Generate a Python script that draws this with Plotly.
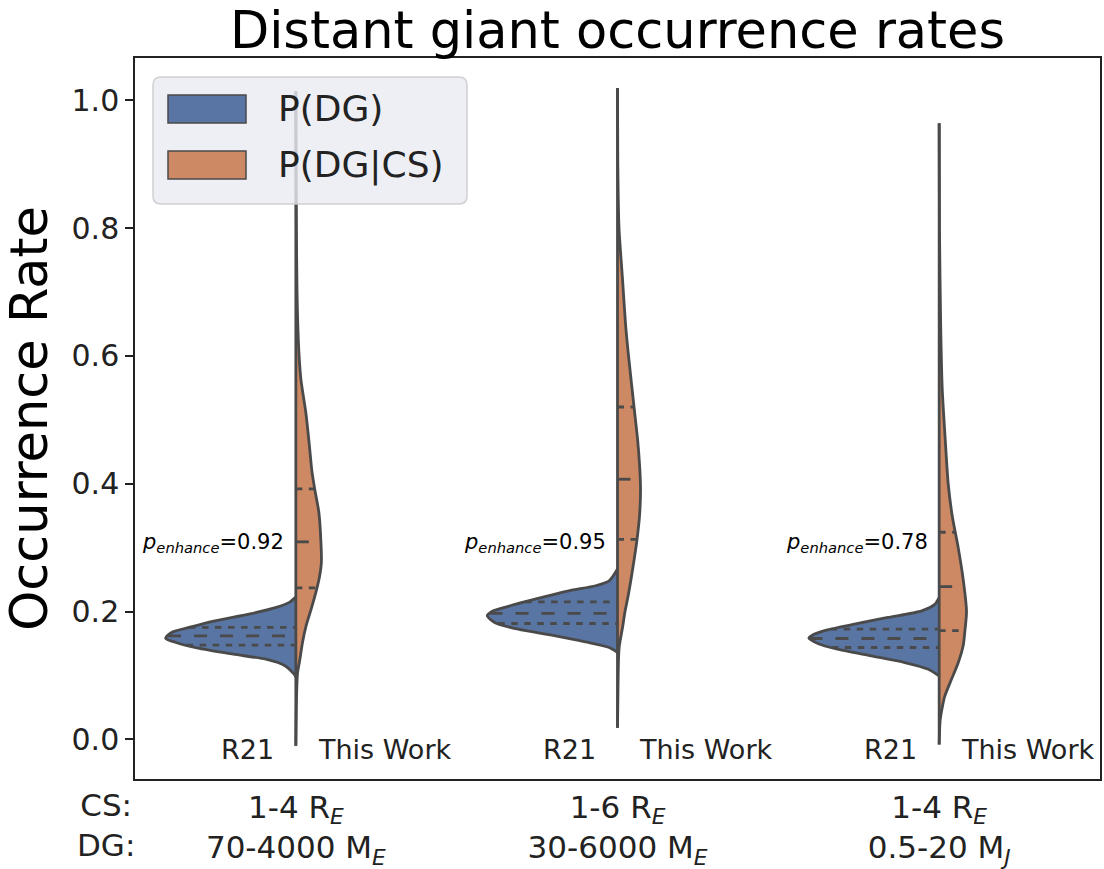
import numpy as np
import plotly.graph_objects as go

# ---------------- data ----------------
cs_labels = ["1-4 R<sub><i>E</i></sub>", "1-6 R<sub><i>E</i></sub>", "1-4 R<sub><i>E</i></sub>"]
dg_labels = ["70-4000 M<sub><i>E</i></sub>", "30-6000 M<sub><i>E</i></sub>", "0.5-20 M<sub><i>J</i></sub>"]
p_enhance = [0.92, 0.95, 0.78]
series_names = ["P(DG)", "P(DG|CS)"]
side_labels = ["R21", "This Work"]
y_ticks = [0.0, 0.2, 0.4, 0.6, 0.8, 1.0]

# R21 (P(DG)) density profiles: occurrence-rate grid and relative density
r21_y = [
    [0.2226, 0.2143, 0.2064, 0.1959, 0.1854, 0.1751, 0.1677, 0.1583, 0.1516, 0.1422, 0.1332, 0.1254, 0.1149, 0.1019, 0.0972],
    [0.2665, 0.2481, 0.2403, 0.2324, 0.2194, 0.2080, 0.1995, 0.1933, 0.1829, 0.1724, 0.1630, 0.1525, 0.1437, 0.1359],
    [0.2220, 0.2116, 0.2011, 0.1907, 0.1803, 0.1713, 0.1630, 0.1583, 0.1505, 0.1411, 0.1306, 0.1202, 0.1097, 0.0992],
]
r21_density = [
    [0, 0.05, 0.15, 0.36, 0.62, 0.82, 0.95, 1.0, 0.92, 0.74, 0.48, 0.23, 0.08, 0.013, 0],
    [0, 0.064, 0.168, 0.374, 0.633, 0.84, 0.97, 1.0, 0.943, 0.762, 0.504, 0.246, 0.064, 0],
    [0, 0.031, 0.134, 0.393, 0.651, 0.858, 0.974, 1.0, 0.936, 0.781, 0.522, 0.264, 0.083, 0],
]
r21_quartiles = [
    [0.1473, 0.1619, 0.1751],
    [0.1813, 0.1970, 0.2152],
    [0.1437, 0.1578, 0.1724],
]

# This Work (P(DG|CS)) density profiles
tw_y = [
    [1.014, 0.90, 0.80, 0.70, 0.617, 0.564, 0.511, 0.46, 0.42, 0.39, 0.355, 0.31, 0.277, 0.255, 0.235, 0.204, 0.178, 0.152, 0.125, 0.104, 0.083, 0.05, -0.01],
    [1.019, 0.90, 0.80, 0.72, 0.65, 0.60, 0.52, 0.47, 0.43, 0.39, 0.35, 0.313, 0.27, 0.225, 0.20, 0.175, 0.146, 0.126, 0.08, 0.018],
    [0.964, 0.80, 0.65, 0.55, 0.47, 0.40, 0.35, 0.30, 0.25, 0.20, 0.17, 0.147, 0.12, 0.094, 0.068, 0.052, 0.03, -0.008],
]
tw_density = [
    [0, .0023, .0046, .0092, .0208, .0385, .0769, .1038, .1231, .1462, .1769, .1923, .1962, .1820, .1600, .1180, .0790, .0515, .0308, .0131, .0077, .0038, 0],
    [0, .0023, .0115, .0385, .0615, .0846, .1269, .1538, .1692, .1769, .1692, .15, .1192, .0823, .0577, .0385, .0138, .0077, .0038, 0],
    [0, .0023, .0115, .0231, .0462, .0692, .1, .1462, .1846, .21, .1977, .1846, .1462, .0946, .0438, .0254, .0077, 0],
]
tw_quartiles = [
    [0.237, 0.309, 0.392],
    [0.313, 0.407, 0.520],
    [0.170, 0.239, 0.324],
]

# ---------------- styling ----------------
BLUE = "#5975a4"
ORANGE = "#cc8963"
GRAY = "#4a4a4a"
FONT = "DejaVu Sans"
HALF_W = 0.405
LW = 2.8

W_PX, H_PX = 1104, 869
ML, MR, MT, MB = 135, 4, 58, 90
PW, PH = W_PX - ML - MR, H_PX - MT - MB


def px_x(px):
    return (px - ML) / PW


def px_y(py):
    return (H_PX - MB - py) / PH


fig = go.Figure()

for i in range(len(cs_labels)):
    c = i
    halves = [
        (np.array(r21_y[i]), np.array(r21_density[i]), r21_quartiles[i], -1, BLUE),
        (np.array(tw_y[i]), np.array(tw_density[i]), tw_quartiles[i], 1, ORANGE),
    ]
    for yv, dv, qs, sgn, col in halves:
        fig.add_trace(go.Scatter(
            x=c + sgn * dv * HALF_W, y=yv, mode="lines", fill="toself", fillcolor=col,
            line=dict(color=GRAY, width=LW, shape="spline", smoothing=0.7),
            hoverinfo="skip", showlegend=False))
    # center outline
    lo = min(min(r21_y[i]), min(tw_y[i]))
    hi = max(max(r21_y[i]), max(tw_y[i]))
    fig.add_trace(go.Scatter(x=[c, c], y=[lo, hi], mode="lines",
                             line=dict(color=GRAY, width=LW), hoverinfo="skip", showlegend=False))
    # quartile lines
    for yv, dv, qs, sgn, col in halves:
        for k, q in enumerate(qs):
            dq = np.interp(q, yv[::-1], dv[::-1])
            dash = "13px,13px" if k == 1 else "6.5px,6.5px"
            if sgn < 0:
                xs = [c - dq * HALF_W, c]
            else:
                xs = [c, c + dq * HALF_W]
            fig.add_trace(go.Scatter(x=xs, y=[q, q], mode="lines",
                                     line=dict(color=GRAY, width=LW, dash=dash),
                                     hoverinfo="skip", showlegend=False))
    # annotations
    fig.add_annotation(x=c - 0.03, y=0.308, xref="x", yref="y",
                       text=f"<i>p</i><sub><i>enhance</i></sub>={p_enhance[i]:.2f}",
                       showarrow=False, xanchor="right", yanchor="middle",
                       font=dict(family=FONT, size=21, color="black"))
    fig.add_annotation(x=c - 0.15, y=-0.016, xref="x", yref="y", text=side_labels[0],
                       showarrow=False, xanchor="center", yanchor="middle",
                       font=dict(family=FONT, size=27, color="#222222"))
    fig.add_annotation(x=c + 0.275, y=-0.016, xref="x", yref="y", text=side_labels[1],
                       showarrow=False, xanchor="center", yanchor="middle",
                       font=dict(family=FONT, size=27, color="#222222"))

# "CS:/DG:" row labels
fig.add_annotation(x=px_x(106), y=0, xref="paper", yref="paper", yshift=-6,
                   text="CS:<br>DG:", showarrow=False, xanchor="center", yanchor="top",
                   font=dict(family=FONT, size=31, color="#222222"))

# ---------------- legend drawn as shapes ----------------
lx0, lx1, ly0, ly1 = px_x(153), px_x(467), px_y(77), px_y(204)
rx, ry = 8 / PW, 8 / PH
path = (f"M {lx0+rx},{ly0} L {lx1-rx},{ly0} Q {lx1},{ly0} {lx1},{ly0-ry} "
        f"L {lx1},{ly1+ry} Q {lx1},{ly1} {lx1-rx},{ly1} L {lx0+rx},{ly1} "
        f"Q {lx0},{ly1} {lx0},{ly1+ry} L {lx0},{ly0-ry} Q {lx0},{ly0} {lx0+rx},{ly0} Z")
fig.add_shape(type="path", path=path, xref="paper", yref="paper",
              fillcolor="rgba(234,234,242,0.8)", line=dict(color="rgba(204,204,204,0.9)", width=1.5),
              layer="above")
for k, (col, name) in enumerate(zip([BLUE, ORANGE], series_names)):
    top = 95 + k * 56
    fig.add_shape(type="rect", xref="paper", yref="paper",
                  x0=px_x(168), x1=px_x(246), y0=px_y(top), y1=px_y(top + 28),
                  fillcolor=col, line=dict(color=GRAY, width=1.5), layer="above")
    fig.add_annotation(x=px_x(276), y=px_y(top + 14), xref="paper", yref="paper",
                       text=name, showarrow=False, xanchor="left", yanchor="middle",
                       font=dict(family=FONT, size=36, color="#222222"))

fig.update_layout(
    width=W_PX, height=H_PX,
    margin=dict(l=ML, r=MR, t=MT, b=MB, autoexpand=False),
    paper_bgcolor="white", plot_bgcolor="white",
    title=dict(text="Distant giant occurrence rates", x=0.5, xref="paper",
               y=1 - 30 / H_PX, yref="container", yanchor="middle", xanchor="center",
               font=dict(family=FONT, size=51, color="black")),
    showlegend=False,
    xaxis=dict(range=[-0.5, 2.5], tickvals=list(range(len(cs_labels))),
               ticktext=[f"{a}<br>{b}" for a, b in zip(cs_labels, dg_labels)],
               tickfont=dict(family=FONT, size=31, color="#222222"),
               showgrid=False, zeroline=False, showline=True, mirror=True,
               linecolor="#222222", linewidth=1.5, ticks="", automargin=False),
    yaxis=dict(range=[-0.062, 1.066], tickvals=y_ticks, tickformat=".1f",
               tickfont=dict(family=FONT, size=30, color="#222222"),
               showgrid=False, zeroline=False, showline=True, mirror=True,
               linecolor="#222222", linewidth=1.5, ticks="outside", ticklen=8,
               tickwidth=1.5, tickcolor="#222222", automargin=False,
               title=dict(text="Occurrence Rate", standoff=9,
                          font=dict(family=FONT, size=51, color="black"))),
)

fig.write_html("out.html")
